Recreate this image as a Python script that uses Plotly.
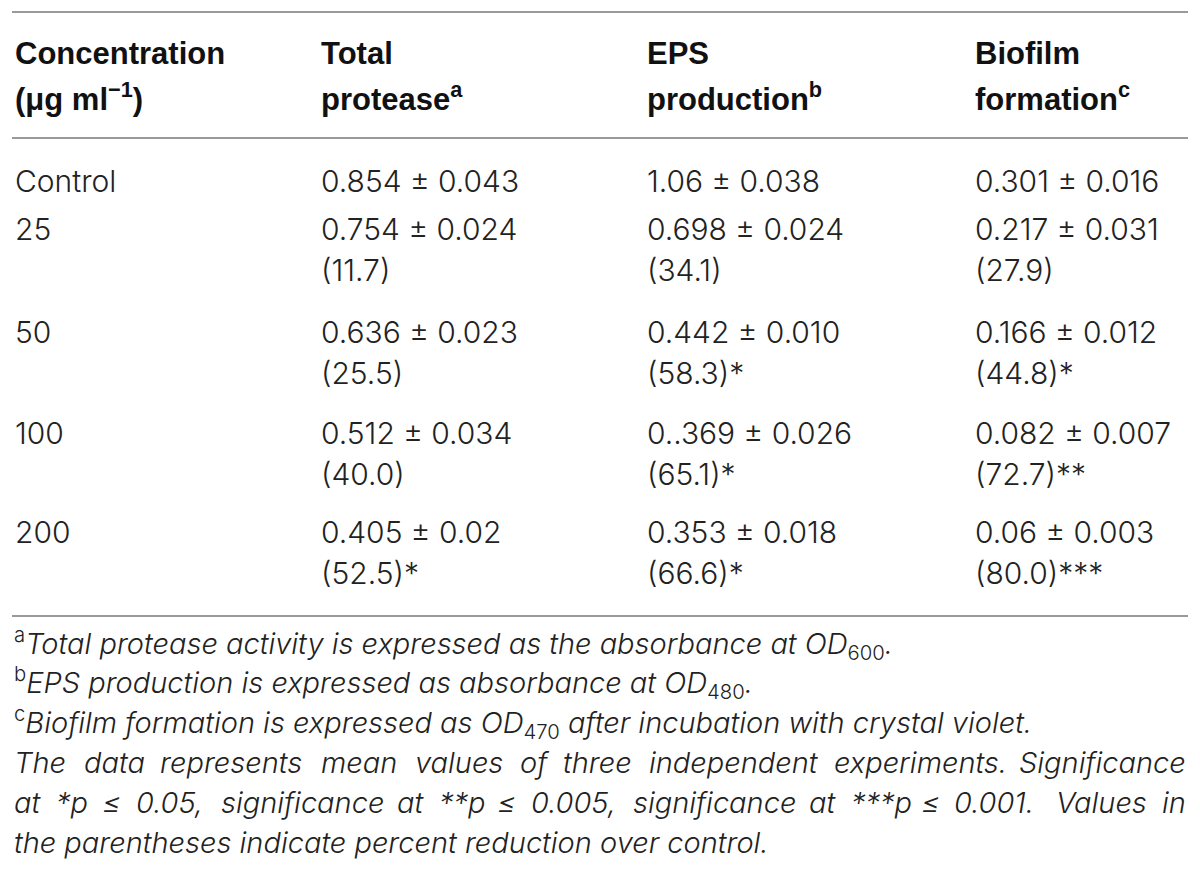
"""
Effect of treatment concentration on protease, EPS and biofilm
Table recreated with Plotly annotations and shapes
"""

import plotly.graph_objects as go

# table data
concentrations = ["Control", "25", "50", "100", "200"]

protease_mean = ["0.854", "0.754", "0.636", "0.512", "0.405"]
protease_sd = ["0.043", "0.024", "0.023", "0.034", "0.02"]
protease_reduction = [None, "11.7", "25.5", "40.0", "52.5"]
protease_sig = ["", "", "", "", "*"]

eps_mean = ["1.06", "0.698", "0.442", "0..369", "0.353"]
eps_sd = ["0.038", "0.024", "0.010", "0.026", "0.018"]
eps_reduction = [None, "34.1", "58.3", "65.1", "66.6"]
eps_sig = ["", "", "*", "*", "*"]

biofilm_mean = ["0.301", "0.217", "0.166", "0.082", "0.06"]
biofilm_sd = ["0.016", "0.031", "0.012", "0.007", "0.003"]
biofilm_reduction = [None, "27.9", "44.8", "72.7", "80.0"]
biofilm_sig = ["", "", "*", "**", "***"]

header_top = ["Concentration", "Total", "EPS", "Biofilm"]
header_bottom = ["(\u03bcg ml<sup>\u22121</sup>)", "protease<sup>a</sup>",
                 "production<sup>b</sup>", "formation<sup>c</sup>"]

footnotes = [
    "<sup>a</sup><i>Total protease activity is expressed as the absorbance at OD</i><sub>600</sub><i>.</i>",
    "<sup>b</sup><i>EPS production is expressed as absorbance at OD</i><sub>480</sub><i>.</i>",
    "<sup>c</sup><i>Biofilm formation is expressed as OD</i><sub>470</sub><i> after incubation with crystal violet.</i>",
]
# justified lines of the last note
note_justified = [
    "The data represents mean values of three independent experiments. Significance",
    "at *p \u2264 0.05, significance at **p \u2264 0.005, significance at ***p \u2264 0.001. Values in",
]
note_last = "the parentheses indicate percent reduction over control."

# layout (page pixel units on hidden axes; page body has an 8px margin)
PAGE_OFF = 8
FIG_W, FIG_H = 1184, 877
LEFT, RIGHT = 12, 1188
col_x = [13, 319, 645, 973]
header_y = [53, 97]
row_y = [181, 229, 332, 433, 532]
paren_dy = 41
rule_y = [12, 138, 616]
note_y = [643, 682, 722, 762, 802, 842]

BODY = dict(family="Inter, Liberation Sans, sans-serif", size=30, color="#222222", weight=300)
HEAD = dict(family="Liberation Sans, Arial, sans-serif", size=31, color="#111111", weight=700)
NOTE = dict(family="Inter, Liberation Sans, sans-serif", size=29, color="#222222", weight=300)

# rough glyph widths (per 1000 em) used only to spread justified words
GLYPH_W = dict(zip("abcdefghijklmnopqrstuvwxyz",
                   [556, 556, 500, 556, 556, 278, 556, 556, 222, 222, 500, 222, 833,
                    556, 556, 556, 556, 333, 500, 278, 556, 500, 722, 500, 500, 500]))
GLYPH_W.update({"T": 611, "S": 667, "V": 667, ".": 278, ",": 278, "*": 389, "\u2264": 549})
WIDTH_SCALE = 1.05

annotations = []


def cell(x, y, text, font, anchor="left"):
    annotations.append(dict(
        x=x, y=y, xref="x", yref="y", text=text, showarrow=False,
        xanchor=anchor, yanchor="middle", align="left", font=font
    ))


def word_width(word, size):
    return sum(GLYPH_W.get(ch, 556) for ch in word) * size / 1000 * WIDTH_SCALE


def justified(line, y, font):
    words = line.split(" ")
    widths = [word_width(w, font["size"]) for w in words]
    gap = (RIGHT - LEFT - sum(widths)) / (len(words) - 1)
    x = LEFT
    for i, w in enumerate(words):
        if i == len(words) - 1:
            cell(RIGHT, y, f"<i>{w}</i>", font, anchor="right")
        else:
            cell(x, y, f"<i>{w}</i>", font)
        x += widths[i] + gap


# header
for i in range(4):
    cell(col_x[i], header_y[0], f"<b>{header_top[i]}</b>", HEAD)
    cell(col_x[i], header_y[1], f"<b>{header_bottom[i]}</b>", HEAD)

# body rows
columns = [
    (protease_mean, protease_sd, protease_reduction, protease_sig),
    (eps_mean, eps_sd, eps_reduction, eps_sig),
    (biofilm_mean, biofilm_sd, biofilm_reduction, biofilm_sig),
]
for r, conc in enumerate(concentrations):
    cell(col_x[0], row_y[r], conc, BODY)
    for c, (mean, sd, red, sig) in enumerate(columns):
        cell(col_x[c + 1], row_y[r], f"{mean[r]} \u00b1 {sd[r]}", BODY)
        if red[r] is not None:
            cell(col_x[c + 1], row_y[r] + paren_dy, f"({red[r]}){sig[r]}", BODY)

# footnotes
for i, note in enumerate(footnotes):
    cell(LEFT, note_y[i], note, NOTE)
for i, line in enumerate(note_justified):
    justified(line, note_y[len(footnotes) + i], NOTE)
cell(LEFT, note_y[-1], f"<i>{note_last}</i>", NOTE)

# horizontal rules
shapes = [
    dict(type="line", xref="x", yref="y", x0=LEFT, x1=RIGHT, y0=y, y1=y,
         line=dict(color="#9a9a9a", width=2))
    for y in rule_y
]

fig = go.Figure()
fig.update_layout(
    width=FIG_W, height=FIG_H,
    margin=dict(l=0, r=0, t=0, b=0),
    paper_bgcolor="white", plot_bgcolor="white",
    showlegend=False,
    xaxis=dict(range=[PAGE_OFF, PAGE_OFF + FIG_W], visible=False, fixedrange=True),
    yaxis=dict(range=[PAGE_OFF + FIG_H, PAGE_OFF], visible=False, fixedrange=True),
    annotations=annotations,
    shapes=shapes,
)

fig.write_html("out.html")
